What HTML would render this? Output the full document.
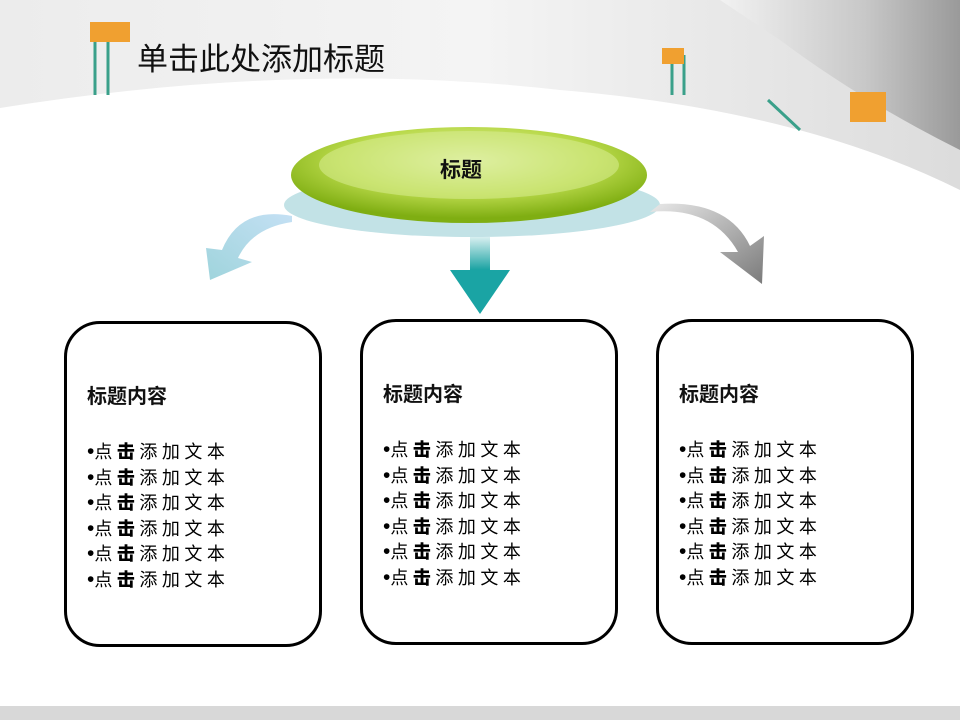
<!DOCTYPE html>
<html><head><meta charset="utf-8"><style>
body{margin:0;width:960px;height:720px;overflow:hidden;background:#fff;font-family:"Liberation Sans","Noto Sans CJK SC",sans-serif;position:relative}
.box{position:absolute;width:252px;height:320px;border:3px solid #000;border-radius:36px;background:#fff;box-sizing:content-box}
.box h3{margin:0;position:absolute;left:20px;top:56px;font-size:20px;font-weight:bold;color:#111}
.box ul{position:absolute;left:20px;top:116px;margin:0;padding:0;list-style:none;font-size:18px;letter-spacing:4.5px;color:#000}
.box li{height:25.6px;line-height:25.6px;white-space:nowrap}
.box b{font-weight:900}
.box i{font-style:normal;font-size:21px;letter-spacing:0;line-height:10px}
</style></head><body>
<svg width="960" height="720" style="position:absolute;left:0;top:0">
<defs>
<linearGradient id="bg" x1="0" y1="0" x2="1" y2="0"><stop offset="0" stop-color="#ececec"/><stop offset=".5" stop-color="#f4f4f4"/><stop offset="1" stop-color="#dcdcdc"/></linearGradient>
<linearGradient id="roll" x1="0" y1="0" x2="1" y2="0"><stop offset="0" stop-color="#f2f2f2"/><stop offset=".6" stop-color="#c8c8c8"/><stop offset="1" stop-color="#9a9a9a"/></linearGradient>
<radialGradient id="gr" cx=".5" cy=".35" r=".6"><stop offset="0" stop-color="#eaf5c0"/><stop offset=".6" stop-color="#b9d94a"/><stop offset="1" stop-color="#7fae12"/></radialGradient>
<linearGradient id="tl" x1="0" y1="0" x2="0" y2="1"><stop offset="0" stop-color="#d8eff0"/><stop offset="1" stop-color="#14a0a0"/></linearGradient>
<linearGradient id="lb" x1="1" y1="0" x2="0" y2="1"><stop offset="0" stop-color="#c4e0f4"/><stop offset="1" stop-color="#9fd4dc"/></linearGradient>
<linearGradient id="gy" x1="0" y1="0" x2="1" y2="1"><stop offset="0" stop-color="#e8e8e8"/><stop offset="1" stop-color="#7a7a7a"/></linearGradient>
</defs>
<rect width="960" height="200" fill="url(#bg)"/>
<path d="M720 0 L960 0 L960 150 Q860 100 780 40 Z" fill="url(#roll)"/>
<path d="M0 108 Q300 60 560 90 Q800 110 960 190 L960 720 L0 720 Z" fill="#fff"/>
<rect x="0" y="706" width="960" height="14" fill="#d8d8d8"/>
<g stroke="#3aa08a" stroke-width="3" fill="none"><path d="M95 40 L95 95 M108 40 L108 95"/><path d="M672 55 L672 95 M684 55 L684 95"/><path d="M768 100 L800 130"/></g>
<rect x="90" y="22" width="40" height="20" fill="#f0a030"/><rect x="662" y="48" width="22" height="16" fill="#f0a030"/><rect x="850" y="92" width="36" height="30" fill="#f0a030"/>
<ellipse cx="472" cy="205" rx="188" ry="32" fill="#c2e2e6"/>
<ellipse cx="469" cy="175" rx="178" ry="48" fill="url(#gr)"/>
<ellipse cx="469" cy="165" rx="150" ry="34" fill="#d5eb8c" opacity=".6"/>
<rect x="470" y="237" width="20" height="34" fill="url(#tl)"/>
<polygon points="450,270 510,270 480,314" fill="#1aa4a4"/>
<path d="M292 216 Q240 206 222 250 L206 248 L210 280 L252 262 L238 258 Q252 228 292 222Z" fill="url(#lb)"/>
<path d="M650 212 Q712 206 738 252 L720 252 L762 284 L764 236 L750 246 Q728 200 660 204Z" fill="url(#gy)"/>
</svg>
<div style="position:absolute;left:137px;top:34px;font-size:31px;color:#111">单击此处添加标题</div>
<div style="position:absolute;left:440px;top:154px;font-size:21px;font-weight:bold;color:#111">标题</div>
<div class="box" style="left:64px;top:321px"><h3>标题内容</h3><ul><li><i>•</i>点<b>击</b>添加文本</li><li><i>•</i>点<b>击</b>添加文本</li><li><i>•</i>点<b>击</b>添加文本</li><li><i>•</i>点<b>击</b>添加文本</li><li><i>•</i>点<b>击</b>添加文本</li><li><i>•</i>点<b>击</b>添加文本</li></ul></div>
<div class="box" style="left:360px;top:319px"><h3>标题内容</h3><ul><li><i>•</i>点<b>击</b>添加文本</li><li><i>•</i>点<b>击</b>添加文本</li><li><i>•</i>点<b>击</b>添加文本</li><li><i>•</i>点<b>击</b>添加文本</li><li><i>•</i>点<b>击</b>添加文本</li><li><i>•</i>点<b>击</b>添加文本</li></ul></div>
<div class="box" style="left:656px;top:319px"><h3>标题内容</h3><ul><li><i>•</i>点<b>击</b>添加文本</li><li><i>•</i>点<b>击</b>添加文本</li><li><i>•</i>点<b>击</b>添加文本</li><li><i>•</i>点<b>击</b>添加文本</li><li><i>•</i>点<b>击</b>添加文本</li><li><i>•</i>点<b>击</b>添加文本</li></ul></div>
</body></html>
